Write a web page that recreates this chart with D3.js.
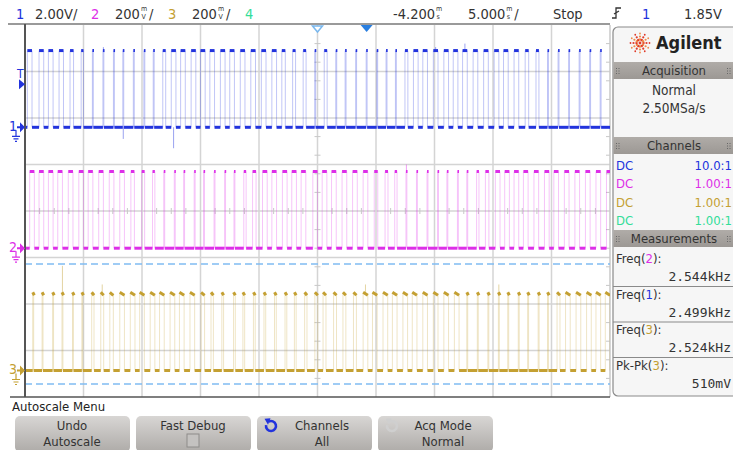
<!DOCTYPE html>
<html><head><meta charset="utf-8">
<script src="https://cdn.jsdelivr.net/npm/d3@7"></script>
<style>
body{margin:0;background:#fff}
svg{display:block}
text{font-family:"DejaVu Sans Condensed","Liberation Sans Narrow",sans-serif;fill:#333}
.mono{font-family:"DejaVu Sans Mono",monospace}
</style>
</head><body>
<svg id="c" width="733" height="450"></svg>
<script>
// ---------- DATA (read from the screen) ----------
// pulse centre times in ms (relative to trigger), pulse high widths in ms
const ch1Times=[-28.8,-27.8,-27.0,-26.1,-25.2,-24.3,-23.4,-22.5,-21.6,-20.8,
 -19.9,-19.0,-18.2,-17.3,-16.5,-15.7,-14.8,-14.0,-13.2,-12.3,
 -11.5,-10.6,-9.7,-8.8,-7.9,-7.1,-6.2,-5.3,-4.4,-3.5,
 -2.6,-1.8,-0.9,0.0,0.9,1.7,2.5,3.4,4.2,5.0,
 5.9,6.8,7.6,8.4,9.3,10.2,11.1,11.9,12.8,13.7,
 14.6,15.5,16.4,17.3,18.2,19.1,20.0];
const ch1Widths=[0.40,0.40,0.40,0.38,0.30,0.20,0.08,0.08,0.08,0.08,
 0.08,0.08,0.08,0.25,0.40,0.40,0.40,0.40,0.40,0.40,
 0.40,0.40,0.40,0.40,0.40,0.30,0.25,0.25,0.08,0.25,
 0.08,0.08,0.08,0.08,0.08,0.08,0.08,0.25,0.40,0.40,
 0.40,0.40,0.40,0.40,0.40,0.40,0.40,0.40,0.40,0.30,
 0.25,0.08,0.08,0.08,0.08,0.08,0.08];
const ch2Times=[-28.6,-27.8,-27.0,-26.2,-25.3,-24.4,-23.6,-22.7,-21.8,-20.9,
 -20.0,-19.1,-18.2,-17.3,-16.4,-15.6,-14.7,-13.9,-13.0,-12.1,
 -11.3,-10.4,-9.6,-8.7,-7.9,-7.0,-6.2,-5.4,-4.4,-3.6,
 -2.8,-1.9,-1.0,-0.1,0.8,1.7,2.5,3.4,4.3,5.2,
 6.1,6.9,7.8,8.6,9.5,10.3,11.2,12.0,12.8,13.6,
 14.5,15.4,16.2,17.1,18.0,18.9,19.8,20.7];
const ch2Widths=[0.40,0.40,0.40,0.40,0.40,0.40,0.40,0.40,0.40,0.40,
 0.30,0.25,0.20,0.08,0.08,0.08,0.08,0.08,0.08,0.08,
 0.08,0.20,0.30,0.40,0.40,0.40,0.40,0.40,0.40,0.40,
 0.40,0.40,0.40,0.40,0.30,0.25,0.20,0.08,0.08,0.08,
 0.08,0.08,0.08,0.08,0.20,0.30,0.40,0.40,0.40,0.40,
 0.40,0.40,0.40,0.40,0.40,0.40,0.40,0.40];
const ch3Times=[-28.5,-27.7,-26.8,-26.0,-25.1,-24.3,-23.4,-22.6,-21.8,-20.9,
 -20.0,-19.2,-18.3,-17.5,-16.6,-15.8,-14.9,-14.0,-13.2,-12.3,
 -11.3,-10.5,-9.6,-8.7,-7.8,-6.9,-6.1,-5.2,-4.3,-3.6,
 -2.7,-1.9,-1.0,-0.1,0.7,1.6,2.4,3.3,4.1,5.0,
 5.9,6.8,7.7,8.6,9.5,10.4,11.3,12.1,13.0,13.8,
 14.7,15.5,16.4,17.2,18.1,19.0,19.8,20.6];
const ch3Widths=[0.08,0.08,0.08,0.08,0.08,0.08,0.20,0.25,0.30,0.40,
 0.40,0.40,0.40,0.40,0.40,0.40,0.40,0.30,0.20,0.15,
 0.15,0.15,0.15,0.15,0.15,0.15,0.15,0.20,0.25,0.25,
 0.25,0.25,0.25,0.40,0.40,0.40,0.40,0.40,0.40,0.40,
 0.40,0.40,0.40,0.08,0.08,0.08,0.08,0.08,0.08,0.08,
 0.08,0.08,0.25,0.40,0.40,0.40,0.40,0.40];
// glitch spikes [time ms, volts]
const ch1Spikes=[[-22.5,3.45],[-20.8,-0.5],[-16.5,-0.9],[5.9,3.45],[8.4,3.6]];
const ch2Spikes=[[3.4,0.36]];
const ch3Spikes=[[-26.0,0.45],[-22.6,0.37],[-0.1,0.37],[11.3,0.37]];
const highLevels=[3.3,0.33,0.33];           // volts
const voltsPerDiv=[2.0,0.2,0.2];
const groundDiv=[1.8,-0.8,-3.43];           // channel offsets in divisions
const markerDiv=[-1.14,-3.72];              // light-blue dashed markers
const timeRange=[-29.2,20.8];               // ms across screen (5 ms/div, delay -4.2 ms)
const triggerVolts=1.85;
const channelColors=["#2233dd","#dd2ee8","#c4a032","#33dd99"];
const topLabels=[
 {x:16,t:"1",c:0},{x:35,t:"2.00V/"},{x:91,t:"2",c:1},{x:115,t:"200",u:["m","V"],s:"/"},
 {x:168,t:"3",c:2},{x:192,t:"200",u:["m","V"],s:"/"},{x:245,t:"4",c:3},
 {x:393,t:"-4.200",u:["m","s"]},{x:468,t:"5.000",u:["m","s"],s:"/"},{x:553,t:"Stop"},
 {x:642,t:"1",c:0},{x:684,t:"1.85V"}];
const channelRows=[["DC","10.0:1"],["DC","1.00:1"],["DC","1.00:1"],["DC","1.00:1"]];
const measurements=[["Freq(","2","):","2.544kHz",1],["Freq(","1","):","2.499kHz",0],["Freq(","3","):","2.524kHz",2],["Pk-Pk(","3","):","510mV",2]];
const buttons=[["Undo","Autoscale",null],["Fast Debug","",null],["Channels","All","#2233dd"],["Acq Mode","Normal","#cfcfcf"]];

// ---------- SCALES ----------
const X0=25,X1=610,Y0=25,Y1=397;
const x=d3.scaleLinear().domain(timeRange).range([X0,X1]);
const yDiv=d3.scaleLinear().domain([-4,4]).range([Y1,Y0]);
const yv=(ci,v)=>yDiv(groundDiv[ci]+v/voltsPerDiv[ci]);

const svg=d3.select("#c");
const defs=svg.append("defs");
defs.append("clipPath").attr("id","clip").append("rect").attr("x",X0).attr("y",Y0).attr("width",X1-X0).attr("height",Y1-Y0);
const bg=defs.append("linearGradient").attr("id","btn").attr("x1",0).attr("y1",0).attr("x2",0).attr("y2",1);
bg.append("stop").attr("offset","0%").attr("stop-color","#d8d6d4");
bg.append("stop").attr("offset","100%").attr("stop-color","#aeaba8");
const hg=defs.append("linearGradient").attr("id","hdr").attr("x1",0).attr("y1",0).attr("x2",0).attr("y2",1);
hg.append("stop").attr("offset","0%").attr("stop-color","#b0aca8");
hg.append("stop").attr("offset","100%").attr("stop-color","#9c9894");

// ---------- GRID ----------
const grid=svg.append("g");
const vLines=d3.range(0,11).map(i=>timeRange[0]+5*i);
grid.selectAll(null).data(vLines.slice(1,10)).join("line")
 .attr("x1",d=>x(d)).attr("x2",d=>x(d)).attr("y1",Y0).attr("y2",Y1)
 .attr("stroke","#d4d4d4").attr("stroke-width",1.5);
grid.selectAll(null).data(d3.range(-3,4)).join("line")
 .attr("x1",X0).attr("x2",X1).attr("y1",d=>yDiv(d)).attr("y2",d=>yDiv(d))
 .attr("stroke","#d4d4d4").attr("stroke-width",1.5);
const tc=timeRange[0]+25;
grid.selectAll(null).data(d3.range(-20,21).filter(i=>i%4)).join("line")
 .attr("x1",i=>x(tc+i*1.25)).attr("x2",i=>x(tc+i*1.25)).attr("y1",yDiv(0)-3).attr("y2",yDiv(0)+3)
 .attr("stroke","#c8c8c8");
const vt=d3.range(-10,11).filter(i=>Math.abs(i*0.4-Math.round(i*0.4))>0.01);
grid.selectAll(null).data(vt).join("line")
 .attr("x1",x(tc)-3).attr("x2",x(tc)+3).attr("y1",i=>yDiv(i*0.4)).attr("y2",i=>yDiv(i*0.4)).attr("stroke","#c8c8c8");
grid.selectAll(null).data(vt).join("line")
 .attr("x1",X1-4).attr("x2",X1).attr("y1",i=>yDiv(i*0.4)).attr("y2",i=>yDiv(i*0.4)).attr("stroke","#c8c8c8");
grid.append("line").attr("x1",X1).attr("x2",X1).attr("y1",Y0).attr("y2",Y1).attr("stroke","#c8c8c8").attr("stroke-width",1.5);

// dashed markers
svg.selectAll(null).data(markerDiv).join("line")
 .attr("x1",X0).attr("x2",X1).attr("y1",d=>yDiv(d)).attr("y2",d=>yDiv(d))
 .attr("stroke","#80bcf2").attr("stroke-width",1.6).attr("stroke-dasharray","7,4");

// ---------- TRACES ----------
function drawChannel(ci,times,widths,spikes){
 const col=channelColors[ci];
 const g=svg.append("g").attr("clip-path","url(#clip)");
 const yl=yv(ci,0), yh=yv(ci,highLevels[ci]);
 const rises=times.map((t,i)=>t-widths[i]/2), falls=times.map((t,i)=>t+widths[i]/2);
 const edges=rises.concat(falls);
 g.selectAll(null).data(edges).join("line")
  .attr("x1",d=>x(d)).attr("x2",d=>x(d)).attr("y1",yl).attr("y2",yh)
  .attr("stroke",col).attr("stroke-opacity",0.28).attr("stroke-width",1);
 g.selectAll(null).data(spikes).join("line")
  .attr("x1",d=>x(d[0])).attr("x2",d=>x(d[0])).attr("y1",d=>d[1]<0?yl:yh).attr("y2",d=>yv(ci,d[1]))
  .attr("stroke",col).attr("stroke-opacity",0.45).attr("stroke-width",1);
 const lows=[]; let prev=timeRange[0]-1;
 times.forEach((t,i)=>{lows.push([prev,rises[i]]);prev=falls[i];});
 lows.push([prev,timeRange[1]+1]);
 g.selectAll(null).data(lows).join("line")
  .attr("x1",d=>x(d[0])).attr("x2",d=>x(d[1])).attr("y1",yl).attr("y2",yl)
  .attr("stroke",col).attr("stroke-width",3);
 const slope=ci===2?1.5:0;
 g.selectAll(null).data(times.map((t,i)=>[rises[i],falls[i]])).join("line")
  .attr("x1",d=>x(d[0])).attr("x2",d=>Math.max(x(d[1]),x(d[0])+1.6)).attr("y1",yh-slope).attr("y2",yh+slope)
  .attr("stroke",col).attr("stroke-width",3);
}
drawChannel(0,ch1Times,ch1Widths,ch1Spikes);
drawChannel(1,ch2Times,ch2Widths,ch2Spikes);
drawChannel(2,ch3Times,ch3Widths,ch3Spikes);

// ---------- FRAME ----------
svg.append("line").attr("x1",8).attr("x2",X1).attr("y1",Y0-1).attr("y2",Y0-1).attr("stroke","#9a9a9a").attr("stroke-width",2);
svg.append("line").attr("x1",X0).attr("x2",X0).attr("y1",Y0-1).attr("y2",Y1).attr("stroke","#555").attr("stroke-width",2);
svg.append("line").attr("x1",X0-15).attr("x2",X1).attr("y1",Y1).attr("y2",Y1).attr("stroke","#555").attr("stroke-width",1.5);

// top markers
svg.append("path").attr("d",`M${x(tc)-5},${Y0+1}L${x(tc)+5},${Y0+1}L${x(tc)},${Y0+7}Z`).attr("fill","#fff").attr("stroke","#7ab8ee").attr("stroke-width",1.5);
svg.append("path").attr("d",`M${x(0)-6},${Y0}L${x(0)+6},${Y0}L${x(0)},${Y0+7}Z`).attr("fill","#2a7fe0");

// left channel markers
function ground(gx,gy,col){
 const p=`M${gx},${gy}V${gy+6}M${gx-4},${gy+6}H${gx+4}M${gx-2.5},${gy+8.5}H${gx+2.5}M${gx-1},${gy+11}H${gx+1}`;
 svg.append("path").attr("d",p).attr("stroke",col).attr("stroke-width",1.2).attr("fill","none");
}
[0,1,2].forEach(ci=>{
 const col=channelColors[ci], gy=yv(ci,0);
 svg.append("text").attr("x",9).attr("y",gy+4).attr("font-size",14).style("fill",col).text(ci+1);
 svg.append("path").attr("d",`M17,${gy-1}H20V${gy-5}L25,${gy}L20,${gy+5}V${gy+1}H17Z`).attr("fill",col);
 ground(16,gy+3,col);
});
const ty=yv(0,triggerVolts);
svg.append("text").attr("x",17).attr("y",ty-6).attr("font-size",12).style("fill",channelColors[0]).text("T");
svg.append("path").attr("d",`M19,${ty-5}L25,${ty}L19,${ty+5}Z`).attr("fill",channelColors[0]);

// ---------- TOP BAR ----------
const tb=svg.append("g");
topLabels.forEach(l=>{
 const t=tb.append("text").attr("x",l.x).attr("y",19).attr("font-size",14.5).text(l.t);
 if(l.c!==undefined) t.style("fill",channelColors[l.c]);
 let w=t.node().getComputedTextLength();
 if(l.u){
  tb.append("text").attr("x",l.x+w+1).attr("y",11).attr("font-size",7).text(l.u[0]);
  tb.append("text").attr("x",l.x+w+1.5).attr("y",19).attr("font-size",7).text(l.u[1]);
  w+=8;
 }
 if(l.s) tb.append("text").attr("x",l.x+w+1).attr("y",19).attr("font-size",14.5).text(l.s);
});
// trigger slope symbol
tb.append("path").attr("d","M612,18H616V8H621M614,14L619,11").attr("stroke","#333").attr("stroke-width",1.3).attr("fill","none");

// ---------- RIGHT PANEL ----------
const P0=613;
const panel=svg.append("g");
panel.append("rect").attr("x",P0).attr("y",27).attr("width",135).attr("height",369).attr("rx",5)
 .attr("fill","#f6f6f6").attr("stroke","#8a8a8a").attr("stroke-width",1.2);
// logo
const lg=panel.append("g").attr("transform","translate(640,43)");
d3.range(12).forEach(k=>{
 const a=k*Math.PI/6;
 [[3.5,1.2],[6.5,1.1],[9.5,0.9]].forEach(([r,s])=>{
  lg.append("circle").attr("cx",r*Math.cos(a)).attr("cy",r*Math.sin(a)).attr("r",s).attr("fill",k%2?"#f08a4a":"#e03a2a");
 });
});
lg.append("circle").attr("r",1.4).attr("fill","#e03a2a");
panel.append("text").attr("x",656).attr("y",49).attr("font-family","Liberation Sans").attr("font-weight","bold").attr("font-size",18).style("fill","#222").text("Agilent");
function header(y,label){
 panel.append("rect").attr("x",P0+0.5).attr("y",y).attr("width",120).attr("height",17).attr("fill","url(#hdr)");
 panel.append("text").attr("x",674).attr("y",y+13).attr("text-anchor","middle").attr("font-size",13).style("fill","#333").text(label);
 [618,729].forEach(gx=>{
  [[0,0],[2.5,0],[0,2.5],[2.5,2.5],[0,5],[2.5,5]].forEach(([dx,dy])=>panel.append("rect").attr("x",gx+dx-2).attr("y",y+6+dy).attr("width",1).attr("height",1).attr("fill","#666"));
 });
}
header(62,"Acquisition");
panel.append("text").attr("x",674).attr("y",95).attr("text-anchor","middle").attr("font-size",13.5).text("Normal");
panel.append("text").attr("x",674).attr("y",113).attr("text-anchor","middle").attr("font-size",13.5).text("2.50MSa/s");
header(137,"Channels");
channelRows.forEach((r,i)=>{
 const yy=170+i*18.3;
 panel.append("text").attr("x",616).attr("y",yy).attr("font-size",13).style("fill",channelColors[i]).text(r[0]);
 panel.append("text").attr("x",732).attr("y",yy).attr("text-anchor","end").attr("font-size",13).style("fill",channelColors[i]).text(r[1]);
});
header(230,"Measurements");
measurements.forEach((m,i)=>{
 const y0=248+i*35.5;
 const t=panel.append("text").attr("x",616).attr("y",y0+15).attr("font-size",13);
 t.append("tspan").text(m[0]);
 t.append("tspan").style("fill",channelColors[m[4]]).text(m[1]);
 t.append("tspan").text(m[2]);
 panel.append("text").attr("class","mono").attr("x",731).attr("y",y0+33).attr("text-anchor","end").attr("font-size",13).style("fill","#333").text(m[3]);
 if(i<3) panel.append("line").attr("x1",P0).attr("x2",733).attr("y1",y0+38.5).attr("y2",y0+38.5).attr("stroke","#8a8a8a");
});

// ---------- BOTTOM ----------
svg.append("text").attr("x",12).attr("y",411).attr("font-size",13).style("fill","#222").text("Autoscale Menu");
buttons.forEach((b,i)=>{
 const bx=15+i*121, cx=bx+57;
 svg.append("rect").attr("x",bx).attr("y",416).attr("width",115).attr("height",36).attr("rx",5).attr("fill","url(#btn)");
 const off=b[2]?8:0;
 svg.append("text").attr("x",cx+off).attr("y",430).attr("text-anchor","middle").attr("font-size",13).text(b[0]);
 if(b[1]) svg.append("text").attr("x",cx+off).attr("y",446).attr("text-anchor","middle").attr("font-size",13).text(b[1]);
 if(i===1) svg.append("rect").attr("x",cx-6).attr("y",434).attr("width",12).attr("height",13).attr("fill","#c4c2c0").attr("stroke","#8e8c8a");
 if(b[2]){
  const ix=bx+14, iy=426, r=5;
  const pt=a=>[ix+r*Math.cos(a*Math.PI/180), iy+r*Math.sin(a*Math.PI/180)];
  const s=pt(-120), e=pt(190);
  svg.append("path").attr("d",`M${s[0]},${s[1]}A${r},${r} 0 1 1 ${e[0]},${e[1]}`).attr("fill","none").attr("stroke",b[2]).attr("stroke-width",2.6);
  svg.append("path").attr("d",`M${s[0]-4},${s[1]-3}L${s[0]+2},${s[1]-3.5}L${s[0]-0.5},${s[1]+3}Z`).attr("fill",b[2]);
 }
});
</script>
</body></html>
